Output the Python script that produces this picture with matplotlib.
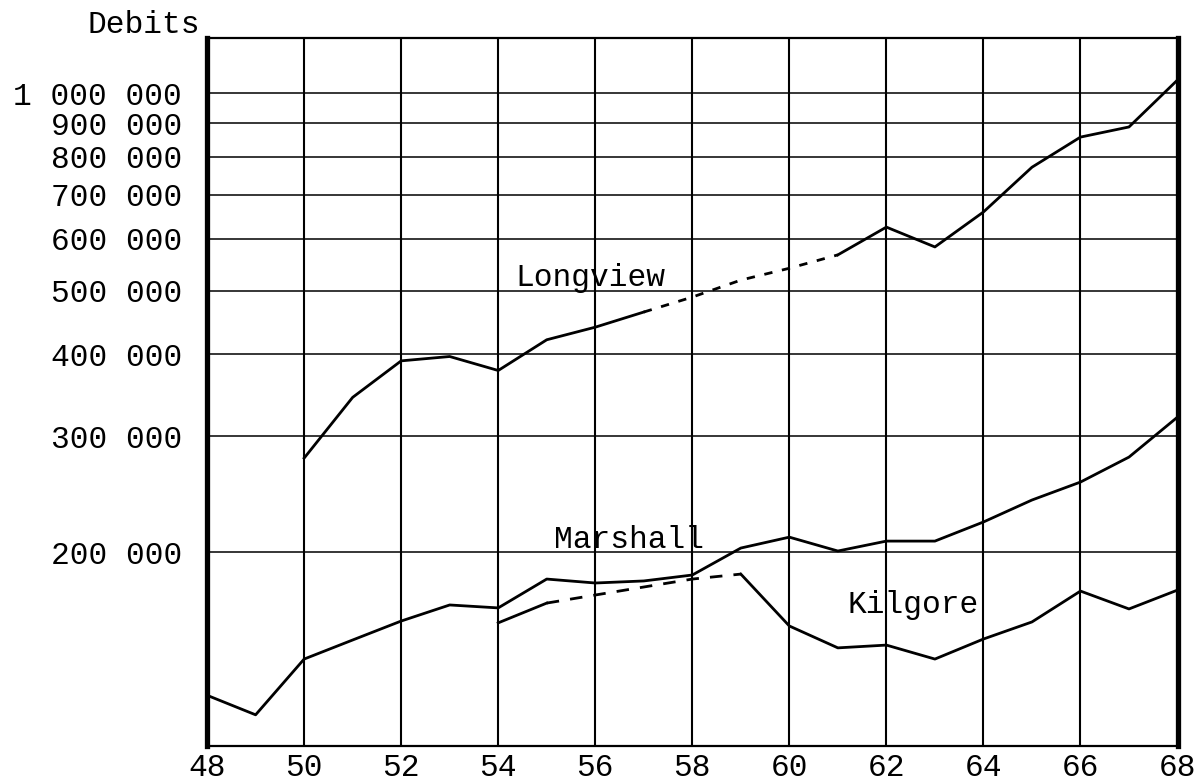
import numpy as np
import matplotlib
matplotlib.use("Agg")
import matplotlib.pyplot as plt
from matplotlib.ticker import FixedLocator, FixedFormatter, NullLocator

# Werte (Debits, log-Skala)
longview_years = list(range(50, 69))
longview_values = [278000, 344000, 391000, 397000, 378000, 421000, 440000, 464000,
                   489000, 519000, 541000, 567000, 625000, 583000, 659000, 771000,
                   857000, 888000, 1047000]

marshall_years = list(range(48, 69))
marshall_values = [121000, 113000, 137400, 146900, 157000, 166100, 164400, 181900,
                   179400, 180700, 184500, 202800, 210700, 200700, 207800, 207800,
                   222200, 240000, 255600, 279000, 321000]

kilgore_years = list(range(54, 69))
kilgore_values = [156000, 167200, 172000, 176900, 181900, 185100, 154300, 142900,
                  144300, 137400, 147400, 156500, 174400, 163800, 175000]

# gestrichelte Abschnitte (von Jahr, bis Jahr)
longview_dashed = (57, 61)
kilgore_dashed = (55, 59)

ytick_values = [200000, 300000, 400000, 500000, 600000, 700000, 800000, 900000, 1000000]
ytick_labels = ["200 000", "300 000", "400 000", "500 000", "600 000",
                "700 000", "800 000", "900 000", "1 000 000"]
xtick_values = list(range(48, 69, 2))

plt.rcParams['font.family'] = ['Liberation Mono', 'DejaVu Sans Mono']
FS = 22.5

fig = plt.figure(figsize=(12.04, 7.84), dpi=100)
ax = fig.add_axes([0.172, 0.0485, 0.806, 0.903])


def plot_segments(ax, xs, ys, dashed, dash_pattern):
    xs = np.array(xs)
    ys = np.array(ys)
    a, b = dashed
    m1 = xs <= a
    m2 = (xs >= a) & (xs <= b)
    m3 = xs >= b
    ax.plot(xs[m1], ys[m1], color='black', lw=2.0)
    ax.plot(xs[m2], ys[m2], color='black', lw=2.0, linestyle=(0, dash_pattern))
    ax.plot(xs[m3], ys[m3], color='black', lw=2.0)


plot_segments(ax, longview_years, longview_values, longview_dashed, (3, 3.5))
ax.plot(marshall_years, marshall_values, color='black', lw=2.0)
plot_segments(ax, kilgore_years, kilgore_values, kilgore_dashed, (4.5, 4))

ax.set_yscale('log')
ax.set_xlim(48, 68)
ax.set_ylim(101300, 1213000)

ax.yaxis.set_major_locator(FixedLocator(ytick_values))
ax.yaxis.set_major_formatter(FixedFormatter(ytick_labels))
ax.yaxis.set_minor_locator(NullLocator())
ax.set_xticks(xtick_values)
ax.set_xticklabels([str(v) for v in xtick_values])

ax.tick_params(axis='y', length=0, pad=18, labelsize=FS)
ax.tick_params(axis='x', length=0, pad=5, labelsize=FS)

ax.grid(axis='x', color='black', lw=1.5)
ax.grid(axis='y', color='black', lw=1.1)
ax.set_axisbelow(True)

for side in ['left', 'right']:
    ax.spines[side].set_linewidth(3.8)
for side in ['top', 'bottom']:
    ax.spines[side].set_linewidth(1.6)

# Beschriftungen der Linien
ax.text(55.9, 523000, "Longview", ha='center', va='center', fontsize=FS)
ax.text(56.7, 208600, "Marshall", ha='center', va='center', fontsize=FS)
ax.text(62.55, 166100, "Kilgore", ha='center', va='center', fontsize=FS)

fig.text(87 / 1204, 1 - 33 / 784, "Debits", ha='left', va='baseline', fontsize=FS)

fig.savefig("out.png", dpi=100)
